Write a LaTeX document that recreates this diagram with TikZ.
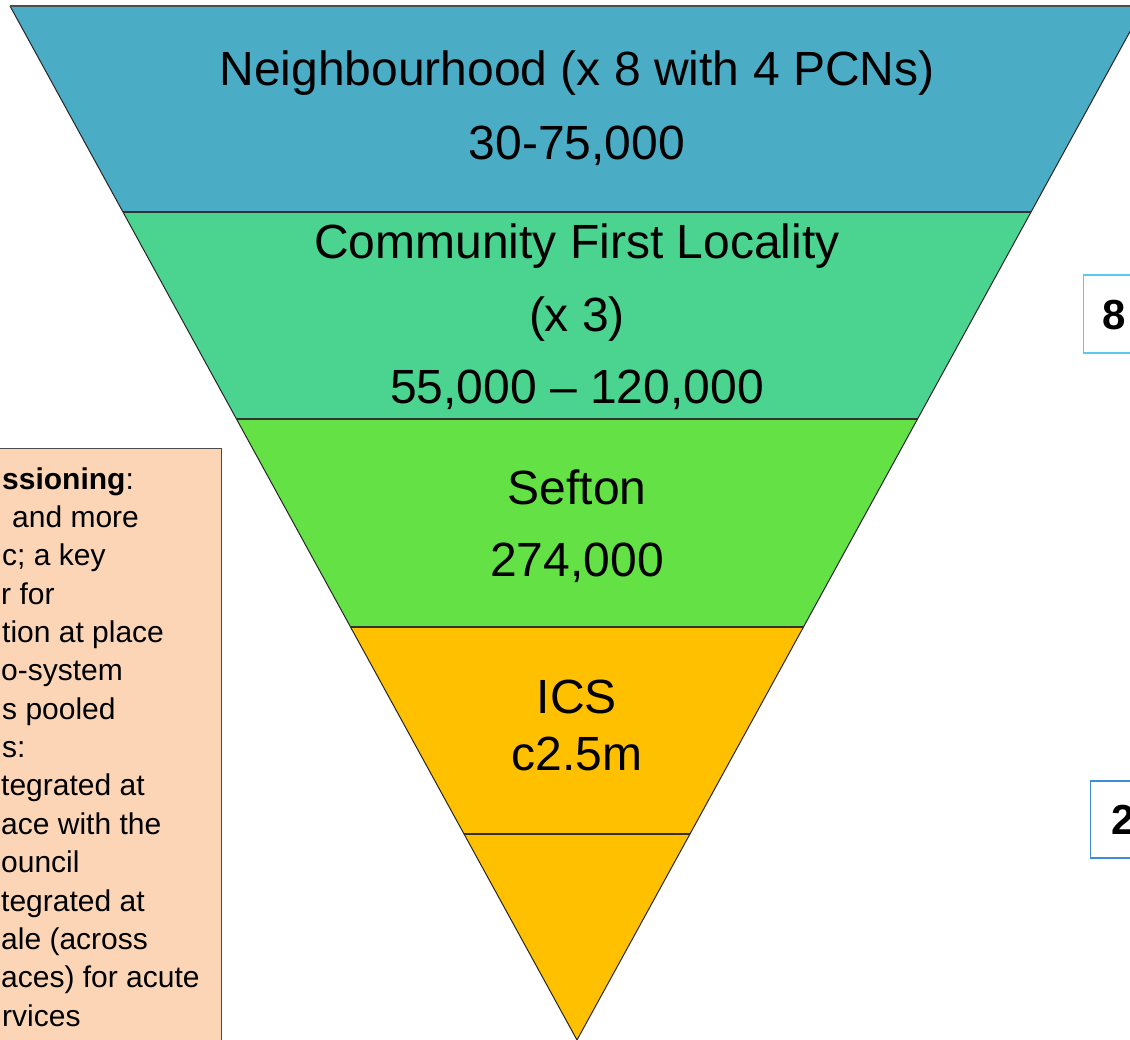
\documentclass[tikz,border=0pt]{standalone}
\usepackage{fontspec}
\setmainfont{Liberation Sans}
\definecolor{bandA}{HTML}{4BACC6}
\definecolor{bandB}{HTML}{4BD490}
\definecolor{bandC}{HTML}{63E145}
\definecolor{bandD}{HTML}{FFC000}
\definecolor{peach}{HTML}{FBD5B5}
\definecolor{edgeA}{HTML}{5BC8F0}
\definecolor{edgeB}{HTML}{3C8DD6}
\begin{document}
\begin{tikzpicture}[x=1pt,y=-1pt,
  bigtxt/.style={anchor=base,inner sep=0pt,font=\fontsize{48}{58}\selectfont},
  boxtxt/.style={anchor=base west,inner sep=0pt,font=\fontsize{30}{38}\selectfont},
  numtxt/.style={anchor=base,inner sep=0pt,font=\fontsize{42}{50}\selectfont\bfseries},
  bandline/.style={draw=black!80,line width=1.6pt},
  outline/.style={draw=black!85,line width=1pt,line join=miter}]
\useasboundingbox (0,0) rectangle (1130,1040);
\clip (0,0) rectangle (1130,1040);
% bands
\fill[bandA] (10,6) -- (1144,6) -- (1031,212) -- (123,212) -- cycle;
\fill[bandB] (123,212) -- (1031,212) -- (917.5,419) -- (236.5,419) -- cycle;
\fill[bandC] (236.5,419) -- (917.5,419) -- (803.5,627) -- (350.5,627) -- cycle;
\fill[bandD] (350.5,627) -- (803.5,627) -- (577,1040) -- cycle;
% dividers
\draw[bandline] (123,212) -- (1031,212);
\draw[bandline] (236.5,419) -- (917.5,419);
\draw[bandline] (350.5,627) -- (803.5,627);
\draw[bandline] (464,834) -- (690,834);
% outline
\draw[outline] (577,1040) -- (10,6);
\draw[outline] (577,1040) -- (1144,6);
\draw[draw=black!70,line width=2pt] (10,6) -- (1144,6);
% labels
\node[bigtxt] (n1) at (577,86) {Neighbourhood (x 8 with 4 PCNs)};
\node[bigtxt] (n2) at (577,159.5) {30-75,000};
\node[bigtxt] (c1) at (577,259) {Community First Locality};
\node[bigtxt] (c2) at (577,332) {(x 3)};
\node[bigtxt] (c3) at (577,404) {55,000 – 120,000};
\node[bigtxt] (s1) at (577,504) {Sefton};
\node[bigtxt] (s2) at (577,576.5) {274,000};
\node[bigtxt] (i1) at (577,713) {ICS};
\node[bigtxt] (i2) at (577,770) {c2.5m};
% left box
\draw[fill=peach,draw=black!70,line width=1pt] (-20,448) rectangle (221,1060);
\node[boxtxt] (b1) at (2,489) {\textbf{ssioning}:};
\node[boxtxt] (b2) at (12,527.4) {and more};
\node[boxtxt] (b3) at (2,565.7) {c; a key};
\node[boxtxt] (b4) at (1,604.1) {r for};
\node[boxtxt] (b5) at (2,642.4) {tion at place};
\node[boxtxt] (b6) at (1,680.8) {o-system};
\node[boxtxt] (b7) at (2,719.2) {s pooled};
\node[boxtxt] (b8) at (2,757.5) {s:};
\node[boxtxt] (b9) at (1,795.9) {tegrated at};
\node[boxtxt] (b10) at (1,834.2) {ace with the};
\node[boxtxt] (b11) at (1,872.6) {ouncil};
\node[boxtxt] (b12) at (1,911.0) {tegrated at};
\node[boxtxt] (b13) at (1,949.3) {ale (across};
\node[boxtxt] (b14) at (1,987.7) {aces) for acute};
\node[boxtxt] (b15) at (2,1026) {rvices};
% right boxes
\draw[draw=edgeA,line width=1.2pt,fill=white] (1083.5,275) rectangle (1160,353);
\node[numtxt] (r1) at (1114.5,329.3) {8};
\draw[draw=edgeB,line width=1.2pt,fill=white] (1090.5,781) rectangle (1160,858);
\node[numtxt] (r2) at (1123,834) {2};
\end{tikzpicture}
\end{document}
